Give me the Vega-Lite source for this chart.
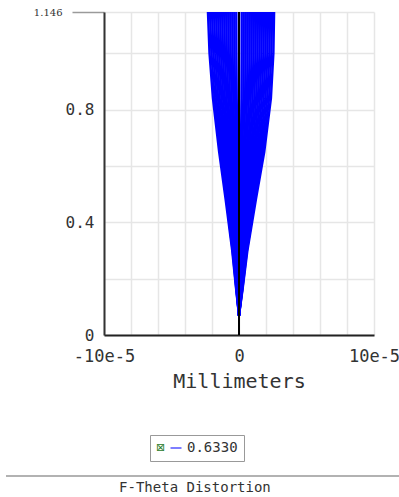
{
  "$schema": "https://vega.github.io/schema/vega-lite/v6.json",
  "background": "white",
  "padding": {"left": 5, "top": 7, "right": 0, "bottom": 0},
  "bounds": "flush",
  "spacing": 141,
  "resolve": {"legend": {"color": "independent"}},
  "config": {"view": {"stroke": null}},
  "datasets": {
    "fan": [
      {"f":1,"y":0.07,"x":0},{"f":1,"y":0.16,"x":-0.207e-5},{"f":1,"y":0.3,"x":-0.506e-5},{"f":1,"y":0.48,"x":-0.989e-5},{"f":1,"y":0.65,"x":-1.472e-5},{"f":1,"y":0.84,"x":-1.932e-5},{"f":1,"y":1.0,"x":-2.185e-5},{"f":1,"y":1.146,"x":-2.3e-5},
      {"f":2,"y":0.07,"x":0},{"f":2,"y":0.16,"x":-0.194e-5},{"f":2,"y":0.3,"x":-0.473e-5},{"f":2,"y":0.48,"x":-0.925e-5},{"f":2,"y":0.65,"x":-1.376e-5},{"f":2,"y":0.84,"x":-1.806e-5},{"f":2,"y":1.0,"x":-2.043e-5},{"f":2,"y":1.146,"x":-2.15e-5},
      {"f":3,"y":0.07,"x":0},{"f":3,"y":0.16,"x":-0.18e-5},{"f":3,"y":0.3,"x":-0.44e-5},{"f":3,"y":0.48,"x":-0.86e-5},{"f":3,"y":0.65,"x":-1.28e-5},{"f":3,"y":0.84,"x":-1.68e-5},{"f":3,"y":1.0,"x":-1.9e-5},{"f":3,"y":1.146,"x":-2.0e-5},
      {"f":4,"y":0.07,"x":0},{"f":4,"y":0.16,"x":-0.167e-5},{"f":4,"y":0.3,"x":-0.407e-5},{"f":4,"y":0.48,"x":-0.796e-5},{"f":4,"y":0.65,"x":-1.184e-5},{"f":4,"y":0.84,"x":-1.554e-5},{"f":4,"y":1.0,"x":-1.758e-5},{"f":4,"y":1.146,"x":-1.85e-5},
      {"f":5,"y":0.07,"x":0},{"f":5,"y":0.16,"x":-0.153e-5},{"f":5,"y":0.3,"x":-0.374e-5},{"f":5,"y":0.48,"x":-0.731e-5},{"f":5,"y":0.65,"x":-1.088e-5},{"f":5,"y":0.84,"x":-1.428e-5},{"f":5,"y":1.0,"x":-1.615e-5},{"f":5,"y":1.146,"x":-1.7e-5},
      {"f":6,"y":0.07,"x":0},{"f":6,"y":0.16,"x":-0.14e-5},{"f":6,"y":0.3,"x":-0.341e-5},{"f":6,"y":0.48,"x":-0.667e-5},{"f":6,"y":0.65,"x":-0.992e-5},{"f":6,"y":0.84,"x":-1.302e-5},{"f":6,"y":1.0,"x":-1.473e-5},{"f":6,"y":1.146,"x":-1.55e-5},
      {"f":7,"y":0.07,"x":0},{"f":7,"y":0.16,"x":-0.126e-5},{"f":7,"y":0.3,"x":-0.308e-5},{"f":7,"y":0.48,"x":-0.602e-5},{"f":7,"y":0.65,"x":-0.896e-5},{"f":7,"y":0.84,"x":-1.176e-5},{"f":7,"y":1.0,"x":-1.33e-5},{"f":7,"y":1.146,"x":-1.4e-5},
      {"f":8,"y":0.07,"x":0},{"f":8,"y":0.16,"x":-0.113e-5},{"f":8,"y":0.3,"x":-0.275e-5},{"f":8,"y":0.48,"x":-0.538e-5},{"f":8,"y":0.65,"x":-0.8e-5},{"f":8,"y":0.84,"x":-1.05e-5},{"f":8,"y":1.0,"x":-1.188e-5},{"f":8,"y":1.146,"x":-1.25e-5},
      {"f":9,"y":0.07,"x":0},{"f":9,"y":0.16,"x":-0.099e-5},{"f":9,"y":0.3,"x":-0.242e-5},{"f":9,"y":0.48,"x":-0.473e-5},{"f":9,"y":0.65,"x":-0.704e-5},{"f":9,"y":0.84,"x":-0.924e-5},{"f":9,"y":1.0,"x":-1.045e-5},{"f":9,"y":1.146,"x":-1.1e-5},
      {"f":10,"y":0.07,"x":0},{"f":10,"y":0.16,"x":-0.086e-5},{"f":10,"y":0.3,"x":-0.209e-5},{"f":10,"y":0.48,"x":-0.409e-5},{"f":10,"y":0.65,"x":-0.608e-5},{"f":10,"y":0.84,"x":-0.798e-5},{"f":10,"y":1.0,"x":-0.903e-5},{"f":10,"y":1.146,"x":-0.95e-5},
      {"f":11,"y":0.07,"x":0},{"f":11,"y":0.16,"x":-0.072e-5},{"f":11,"y":0.3,"x":-0.176e-5},{"f":11,"y":0.48,"x":-0.344e-5},{"f":11,"y":0.65,"x":-0.512e-5},{"f":11,"y":0.84,"x":-0.672e-5},{"f":11,"y":1.0,"x":-0.76e-5},{"f":11,"y":1.146,"x":-0.8e-5},
      {"f":12,"y":0.07,"x":0},{"f":12,"y":0.16,"x":-0.059e-5},{"f":12,"y":0.3,"x":-0.143e-5},{"f":12,"y":0.48,"x":-0.28e-5},{"f":12,"y":0.65,"x":-0.416e-5},{"f":12,"y":0.84,"x":-0.546e-5},{"f":12,"y":1.0,"x":-0.618e-5},{"f":12,"y":1.146,"x":-0.65e-5},
      {"f":13,"y":0.07,"x":0},{"f":13,"y":0.16,"x":-0.045e-5},{"f":13,"y":0.3,"x":-0.11e-5},{"f":13,"y":0.48,"x":-0.215e-5},{"f":13,"y":0.65,"x":-0.32e-5},{"f":13,"y":0.84,"x":-0.42e-5},{"f":13,"y":1.0,"x":-0.475e-5},{"f":13,"y":1.146,"x":-0.5e-5},
      {"f":14,"y":0.07,"x":0},{"f":14,"y":0.16,"x":-0.032e-5},{"f":14,"y":0.3,"x":-0.077e-5},{"f":14,"y":0.48,"x":-0.151e-5},{"f":14,"y":0.65,"x":-0.224e-5},{"f":14,"y":0.84,"x":-0.294e-5},{"f":14,"y":1.0,"x":-0.333e-5},{"f":14,"y":1.146,"x":-0.35e-5},
      {"f":15,"y":0.07,"x":0},{"f":15,"y":0.16,"x":-0.018e-5},{"f":15,"y":0.3,"x":-0.044e-5},{"f":15,"y":0.48,"x":-0.086e-5},{"f":15,"y":0.65,"x":-0.128e-5},{"f":15,"y":0.84,"x":-0.168e-5},{"f":15,"y":1.0,"x":-0.19e-5},{"f":15,"y":1.146,"x":-0.2e-5},
      {"f":16,"y":0.07,"x":0},{"f":16,"y":0.16,"x":0.02e-5},{"f":16,"y":0.3,"x":0.048e-5},{"f":16,"y":0.48,"x":0.096e-5},{"f":16,"y":0.65,"x":0.144e-5},{"f":16,"y":0.84,"x":0.182e-5},{"f":16,"y":1.0,"x":0.196e-5},{"f":16,"y":1.146,"x":0.2e-5},
      {"f":17,"y":0.07,"x":0},{"f":17,"y":0.16,"x":0.035e-5},{"f":17,"y":0.3,"x":0.084e-5},{"f":17,"y":0.48,"x":0.168e-5},{"f":17,"y":0.65,"x":0.252e-5},{"f":17,"y":0.84,"x":0.319e-5},{"f":17,"y":1.0,"x":0.343e-5},{"f":17,"y":1.146,"x":0.35e-5},
      {"f":18,"y":0.07,"x":0},{"f":18,"y":0.16,"x":0.05e-5},{"f":18,"y":0.3,"x":0.12e-5},{"f":18,"y":0.48,"x":0.24e-5},{"f":18,"y":0.65,"x":0.36e-5},{"f":18,"y":0.84,"x":0.455e-5},{"f":18,"y":1.0,"x":0.49e-5},{"f":18,"y":1.146,"x":0.5e-5},
      {"f":19,"y":0.07,"x":0},{"f":19,"y":0.16,"x":0.065e-5},{"f":19,"y":0.3,"x":0.156e-5},{"f":19,"y":0.48,"x":0.312e-5},{"f":19,"y":0.65,"x":0.468e-5},{"f":19,"y":0.84,"x":0.592e-5},{"f":19,"y":1.0,"x":0.637e-5},{"f":19,"y":1.146,"x":0.65e-5},
      {"f":20,"y":0.07,"x":0},{"f":20,"y":0.16,"x":0.08e-5},{"f":20,"y":0.3,"x":0.192e-5},{"f":20,"y":0.48,"x":0.384e-5},{"f":20,"y":0.65,"x":0.576e-5},{"f":20,"y":0.84,"x":0.728e-5},{"f":20,"y":1.0,"x":0.784e-5},{"f":20,"y":1.146,"x":0.8e-5},
      {"f":21,"y":0.07,"x":0},{"f":21,"y":0.16,"x":0.095e-5},{"f":21,"y":0.3,"x":0.228e-5},{"f":21,"y":0.48,"x":0.456e-5},{"f":21,"y":0.65,"x":0.684e-5},{"f":21,"y":0.84,"x":0.865e-5},{"f":21,"y":1.0,"x":0.931e-5},{"f":21,"y":1.146,"x":0.95e-5},
      {"f":22,"y":0.07,"x":0},{"f":22,"y":0.16,"x":0.11e-5},{"f":22,"y":0.3,"x":0.264e-5},{"f":22,"y":0.48,"x":0.528e-5},{"f":22,"y":0.65,"x":0.792e-5},{"f":22,"y":0.84,"x":1.001e-5},{"f":22,"y":1.0,"x":1.078e-5},{"f":22,"y":1.146,"x":1.1e-5},
      {"f":23,"y":0.07,"x":0},{"f":23,"y":0.16,"x":0.125e-5},{"f":23,"y":0.3,"x":0.3e-5},{"f":23,"y":0.48,"x":0.6e-5},{"f":23,"y":0.65,"x":0.9e-5},{"f":23,"y":0.84,"x":1.138e-5},{"f":23,"y":1.0,"x":1.225e-5},{"f":23,"y":1.146,"x":1.25e-5},
      {"f":24,"y":0.07,"x":0},{"f":24,"y":0.16,"x":0.14e-5},{"f":24,"y":0.3,"x":0.336e-5},{"f":24,"y":0.48,"x":0.672e-5},{"f":24,"y":0.65,"x":1.008e-5},{"f":24,"y":0.84,"x":1.274e-5},{"f":24,"y":1.0,"x":1.372e-5},{"f":24,"y":1.146,"x":1.4e-5},
      {"f":25,"y":0.07,"x":0},{"f":25,"y":0.16,"x":0.155e-5},{"f":25,"y":0.3,"x":0.372e-5},{"f":25,"y":0.48,"x":0.744e-5},{"f":25,"y":0.65,"x":1.116e-5},{"f":25,"y":0.84,"x":1.411e-5},{"f":25,"y":1.0,"x":1.519e-5},{"f":25,"y":1.146,"x":1.55e-5},
      {"f":26,"y":0.07,"x":0},{"f":26,"y":0.16,"x":0.17e-5},{"f":26,"y":0.3,"x":0.408e-5},{"f":26,"y":0.48,"x":0.816e-5},{"f":26,"y":0.65,"x":1.224e-5},{"f":26,"y":0.84,"x":1.547e-5},{"f":26,"y":1.0,"x":1.666e-5},{"f":26,"y":1.146,"x":1.7e-5},
      {"f":27,"y":0.07,"x":0},{"f":27,"y":0.16,"x":0.185e-5},{"f":27,"y":0.3,"x":0.444e-5},{"f":27,"y":0.48,"x":0.888e-5},{"f":27,"y":0.65,"x":1.332e-5},{"f":27,"y":0.84,"x":1.684e-5},{"f":27,"y":1.0,"x":1.813e-5},{"f":27,"y":1.146,"x":1.85e-5},
      {"f":28,"y":0.07,"x":0},{"f":28,"y":0.16,"x":0.2e-5},{"f":28,"y":0.3,"x":0.48e-5},{"f":28,"y":0.48,"x":0.96e-5},{"f":28,"y":0.65,"x":1.44e-5},{"f":28,"y":0.84,"x":1.82e-5},{"f":28,"y":1.0,"x":1.96e-5},{"f":28,"y":1.146,"x":2.0e-5},
      {"f":29,"y":0.07,"x":0},{"f":29,"y":0.16,"x":0.215e-5},{"f":29,"y":0.3,"x":0.516e-5},{"f":29,"y":0.48,"x":1.032e-5},{"f":29,"y":0.65,"x":1.548e-5},{"f":29,"y":0.84,"x":1.957e-5},{"f":29,"y":1.0,"x":2.107e-5},{"f":29,"y":1.146,"x":2.15e-5},
      {"f":30,"y":0.07,"x":0},{"f":30,"y":0.16,"x":0.23e-5},{"f":30,"y":0.3,"x":0.552e-5},{"f":30,"y":0.48,"x":1.104e-5},{"f":30,"y":0.65,"x":1.656e-5},{"f":30,"y":0.84,"x":2.093e-5},{"f":30,"y":1.0,"x":2.254e-5},{"f":30,"y":1.146,"x":2.3e-5},
      {"f":31,"y":0.07,"x":0},{"f":31,"y":0.16,"x":0.245e-5},{"f":31,"y":0.3,"x":0.588e-5},{"f":31,"y":0.48,"x":1.176e-5},{"f":31,"y":0.65,"x":1.764e-5},{"f":31,"y":0.84,"x":2.23e-5},{"f":31,"y":1.0,"x":2.401e-5},{"f":31,"y":1.146,"x":2.45e-5},
      {"f":32,"y":0.07,"x":0},{"f":32,"y":0.16,"x":0.26e-5},{"f":32,"y":0.3,"x":0.624e-5},{"f":32,"y":0.48,"x":1.248e-5},{"f":32,"y":0.65,"x":1.872e-5},{"f":32,"y":0.84,"x":2.366e-5},{"f":32,"y":1.0,"x":2.548e-5},{"f":32,"y":1.146,"x":2.6e-5}
    ],
    "centre": [{"x": 0, "y": 0, "y2": 1.146}],
    "footer": [{"label": "F-Theta Distortion"}]
  },
  "vconcat": [
    {
      "width": 270,
      "height": 323,
      "layer": [
        {
          "data": {"name": "fan"},
          "mark": {"type": "line", "strokeWidth": 2.4, "clip": true},
          "encoding": {
            "x": {
              "field": "x", "type": "quantitative",
              "scale": {"domain": [-10e-5, 10e-5], "nice": false, "zero": false},
              "axis": {
                "values": [-10e-5, -8e-5, -6e-5, -4e-5, -2e-5, 0, 2e-5, 4e-5, 6e-5, 8e-5, 10e-5],
                "tickCount": 20,
                "labelExpr": "datum.value < -9e-5 ? '-10e-5' : datum.value > 9e-5 ? '10e-5' : (datum.value > -1e-6 && datum.value < 1e-6) ? '0' : ''",
                "grid": true, "gridColor": "#e6e6e6", "gridWidth": 1.5,
                "ticks": false,
                "domainColor": "#222", "domainWidth": 2,
                "labelFont": "DejaVu Sans Mono", "labelFontSize": 17, "labelColor": "#333",
                "labelPadding": 13, "labelFlush": false, "labelOverlap": false, "labelBound": false,
                "title": "Millimeters",
                "titleFont": "DejaVu Sans Mono", "titleFontSize": 20, "titleFontWeight": "normal",
                "titleColor": "#333", "titlePadding": 7
              }
            },
            "y": {
              "field": "y", "type": "quantitative",
              "scale": {"domain": [0, 1.146], "nice": false, "zero": false},
              "axis": {
                "values": [0, 0.2, 0.4, 0.6, 0.8, 1.0, 1.146],
                "tickCount": 20,
                "labelExpr": "datum.value > 1.1 ? '1.146' : datum.value == 0 ? '0' : datum.value == 0.4 ? '0.4' : datum.value == 0.8 ? '0.8' : ''",
                "grid": true, "gridColor": "#e6e6e6", "gridWidth": 1.5,
                "tickSize": {"condition": {"test": "datum.value > 1.1", "value": 32}, "value": 0},
                "tickColor": "#9a9a9a", "tickWidth": 1.5,
                "domainColor": "#333", "domainWidth": 2,
                "labelFont": {"condition": {"test": "datum.value > 1.1", "value": "DejaVu Serif"}, "value": "DejaVu Sans Mono"},
                "labelFontSize": {"condition": {"test": "datum.value > 1.1", "value": 10}, "value": 16},
                "labelColor": "#333", "labelPadding": 10, "labelOverlap": false,
                "title": null
              }
            },
            "detail": {"field": "f", "type": "nominal"},
            "order": {"field": "y", "type": "quantitative"},
            "color": {
              "datum": "0.6330",
              "type": "nominal",
              "scale": {"range": ["#0000ff"]},
              "legend": {
                "orient": "none", "legendX": 46, "legendY": 423,
                "title": "⊠", "titleOrient": "left", "titleFont": "DejaVu Sans",
                "titleFontSize": 11, "titleFontWeight": "normal", "titleColor": "#1f7a1f", "titlePadding": 3,
                "symbolType": "stroke", "symbolSize": 121, "symbolStrokeWidth": 2, "symbolOpacity": 0.5,
                "labelFont": "DejaVu Sans Mono", "labelFontSize": 14, "labelColor": "#333", "labelOffset": 4,
                "strokeColor": "#999", "fillColor": "white", "padding": 6
              }
            }
          }
        },
        {
          "data": {"name": "centre"},
          "mark": {"type": "rule", "color": "black", "strokeWidth": 2},
          "encoding": {
            "x": {"field": "x", "type": "quantitative"},
            "y": {"field": "y", "type": "quantitative"},
            "y2": {"field": "y2"}
          }
        }
      ]
    },
    {
      "width": 296,
      "height": 20,
      "data": {"name": "footer"},
      "layer": [
        {
          "mark": {"type": "rule", "color": "#999", "strokeWidth": 1.5},
          "encoding": {
            "x": {"datum": 0, "type": "quantitative", "scale": {"domain": [0, 1], "range": [-98, 296]}, "axis": null},
            "x2": {"datum": 1},
            "y": {"datum": 1, "type": "quantitative", "scale": {"domain": [0, 1]}, "axis": null}
          }
        },
        {
          "mark": {"type": "text", "align": "left", "baseline": "middle", "font": "DejaVu Sans Mono", "fontSize": 14, "color": "#333"},
          "encoding": {
            "x": {"datum": 0.287, "type": "quantitative"},
            "y": {"datum": 0.425, "type": "quantitative"},
            "text": {"field": "label"}
          }
        }
      ]
    }
  ]
}
